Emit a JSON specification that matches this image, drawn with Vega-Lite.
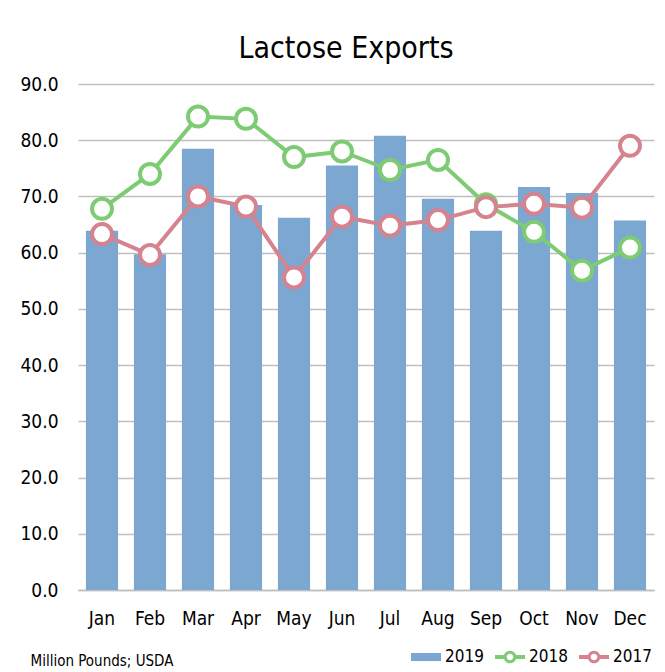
{
  "$schema": "https://vega.github.io/schema/vega-lite/v6.json",
  "width": 576,
  "height": 506,
  "autosize": {"type": "none"},
  "padding": {"left": 78, "top": 84, "right": 11, "bottom": 82},
  "background": "white",
  "title": {"text": "Lactose Exports", "font": "DejaVu Sans Condensed", "fontSize": 30, "fontWeight": "normal", "color": "black", "offset": 11, "dx": -20},
  "config": {
    "view": {"stroke": null},
    "font": "DejaVu Sans Condensed"
  },
  "data": {
    "values": [
      {"month": "Jan", "year": "2019", "value": 63.9},
      {"month": "Feb", "year": "2019", "value": 59.7},
      {"month": "Mar", "year": "2019", "value": 78.5},
      {"month": "Apr", "year": "2019", "value": 68.5},
      {"month": "May", "year": "2019", "value": 66.2},
      {"month": "Jun", "year": "2019", "value": 75.5},
      {"month": "Jul", "year": "2019", "value": 80.8},
      {"month": "Aug", "year": "2019", "value": 69.6},
      {"month": "Sep", "year": "2019", "value": 63.9},
      {"month": "Oct", "year": "2019", "value": 71.7},
      {"month": "Nov", "year": "2019", "value": 70.6},
      {"month": "Dec", "year": "2019", "value": 65.7},
      {"month": "Jan", "year": "2018", "value": 67.8},
      {"month": "Feb", "year": "2018", "value": 74.0},
      {"month": "Mar", "year": "2018", "value": 84.2},
      {"month": "Apr", "year": "2018", "value": 83.8},
      {"month": "May", "year": "2018", "value": 77.0},
      {"month": "Jun", "year": "2018", "value": 78.0},
      {"month": "Jul", "year": "2018", "value": 74.7},
      {"month": "Aug", "year": "2018", "value": 76.5},
      {"month": "Sep", "year": "2018", "value": 68.6},
      {"month": "Oct", "year": "2018", "value": 63.7},
      {"month": "Nov", "year": "2018", "value": 56.8},
      {"month": "Dec", "year": "2018", "value": 60.9},
      {"month": "Jan", "year": "2017", "value": 63.3},
      {"month": "Feb", "year": "2017", "value": 59.6},
      {"month": "Mar", "year": "2017", "value": 70.0},
      {"month": "Apr", "year": "2017", "value": 68.2},
      {"month": "May", "year": "2017", "value": 55.6},
      {"month": "Jun", "year": "2017", "value": 66.4},
      {"month": "Jul", "year": "2017", "value": 64.8},
      {"month": "Aug", "year": "2017", "value": 65.8},
      {"month": "Sep", "year": "2017", "value": 68.1},
      {"month": "Oct", "year": "2017", "value": 68.7},
      {"month": "Nov", "year": "2017", "value": 68.0},
      {"month": "Dec", "year": "2017", "value": 79.0}
    ]
  },
  "encoding": {
    "x": {
      "field": "month", "type": "nominal",
      "sort": ["Jan","Feb","Mar","Apr","May","Jun","Jul","Aug","Sep","Oct","Nov","Dec"],
      "scale": {"paddingInner": 0.33, "paddingOuter": 0.165},
      "axis": {
        "title": "Million Pounds; USDA", "titleX": -48, "titleY": 70, "titleAlign": "left", "titleBaseline": "middle",
        "titleFontSize": 15, "titleFontWeight": "normal", "titleColor": "black", "titleFont": "DejaVu Sans Condensed",
        "labelAngle": 0, "labelFontSize": 19, "labelColor": "black", "labelPadding": 19,
        "ticks": false, "domain": true, "domainColor": "#BFBFBF", "domainWidth": 1.5
      }
    },
    "y": {
      "field": "value", "type": "quantitative",
      "scale": {"domain": [0, 90], "nice": false},
      "axis": {
        "title": null, "values": [0,10,20,30,40,50,60,70,80,90], "format": ".1f",
        "labelFontSize": 19, "labelColor": "black", "labelPadding": 20,
        "ticks": false, "domain": false, "gridColor": "#BFBFBF", "gridWidth": 1.5
      }
    },
    "color": {
      "field": "year", "type": "nominal",
      "scale": {"domain": ["2019", "2018", "2017"], "range": ["#7BA7D0", "#7DCB73", "#D5838F"]},
      "legend": null
    }
  },
  "layer": [
    {
      "transform": [{"filter": "datum.year === '2019'"}],
      "mark": {"type": "bar"},
      "encoding": {
        "color": {
          "field": "year", "type": "nominal",
          "scale": {"domain": ["2019", "2018", "2017"], "range": ["#7BA7D0", "#7DCB73", "#D5838F"]},
          "legend": {
            "title": null, "orient": "none", "direction": "horizontal", "legendX": 333, "legendY": 558,
            "labelFontSize": 17, "labelColor": "black", "labelOffset": 4, "columnPadding": 11,
            "symbolSize": 900, "symbolStrokeWidth": 0,
            "encode": {
              "symbols": {
                "update": {
                  "shape": {"signal": "datum.value === '2019' ? 'M-1,-0.27H1V0.27H-1Z' : 'M-1,-0.133H-0.36V0.133H-1Z M0.36,-0.133H1V0.133H0.36Z M0.42,0A0.42,0.42,0,1,1,-0.42,0A0.42,0.42,0,1,1,0.42,0Z M0.22,0A0.22,0.22,0,1,0,-0.22,0A0.22,0.22,0,1,0,0.22,0Z'"},
                  "strokeWidth": {"value": 0},
                  "opacity": {"value": 1}
                }
              }
            }
          }
        }
      }
    },
    {
      "transform": [{"filter": "datum.year === '2018'"}],
      "mark": {"type": "line", "strokeWidth": 4}
    },
    {
      "transform": [{"filter": "datum.year === '2018'"}],
      "mark": {"type": "point", "filled": false, "fill": "white", "fillOpacity": 1, "opacity": 1, "size": 400, "strokeWidth": 4}
    },
    {
      "transform": [{"filter": "datum.year === '2017'"}],
      "mark": {"type": "line", "strokeWidth": 4}
    },
    {
      "transform": [{"filter": "datum.year === '2017'"}],
      "mark": {"type": "point", "filled": false, "fill": "white", "fillOpacity": 1, "opacity": 1, "size": 400, "strokeWidth": 4}
    }
  ]
}
